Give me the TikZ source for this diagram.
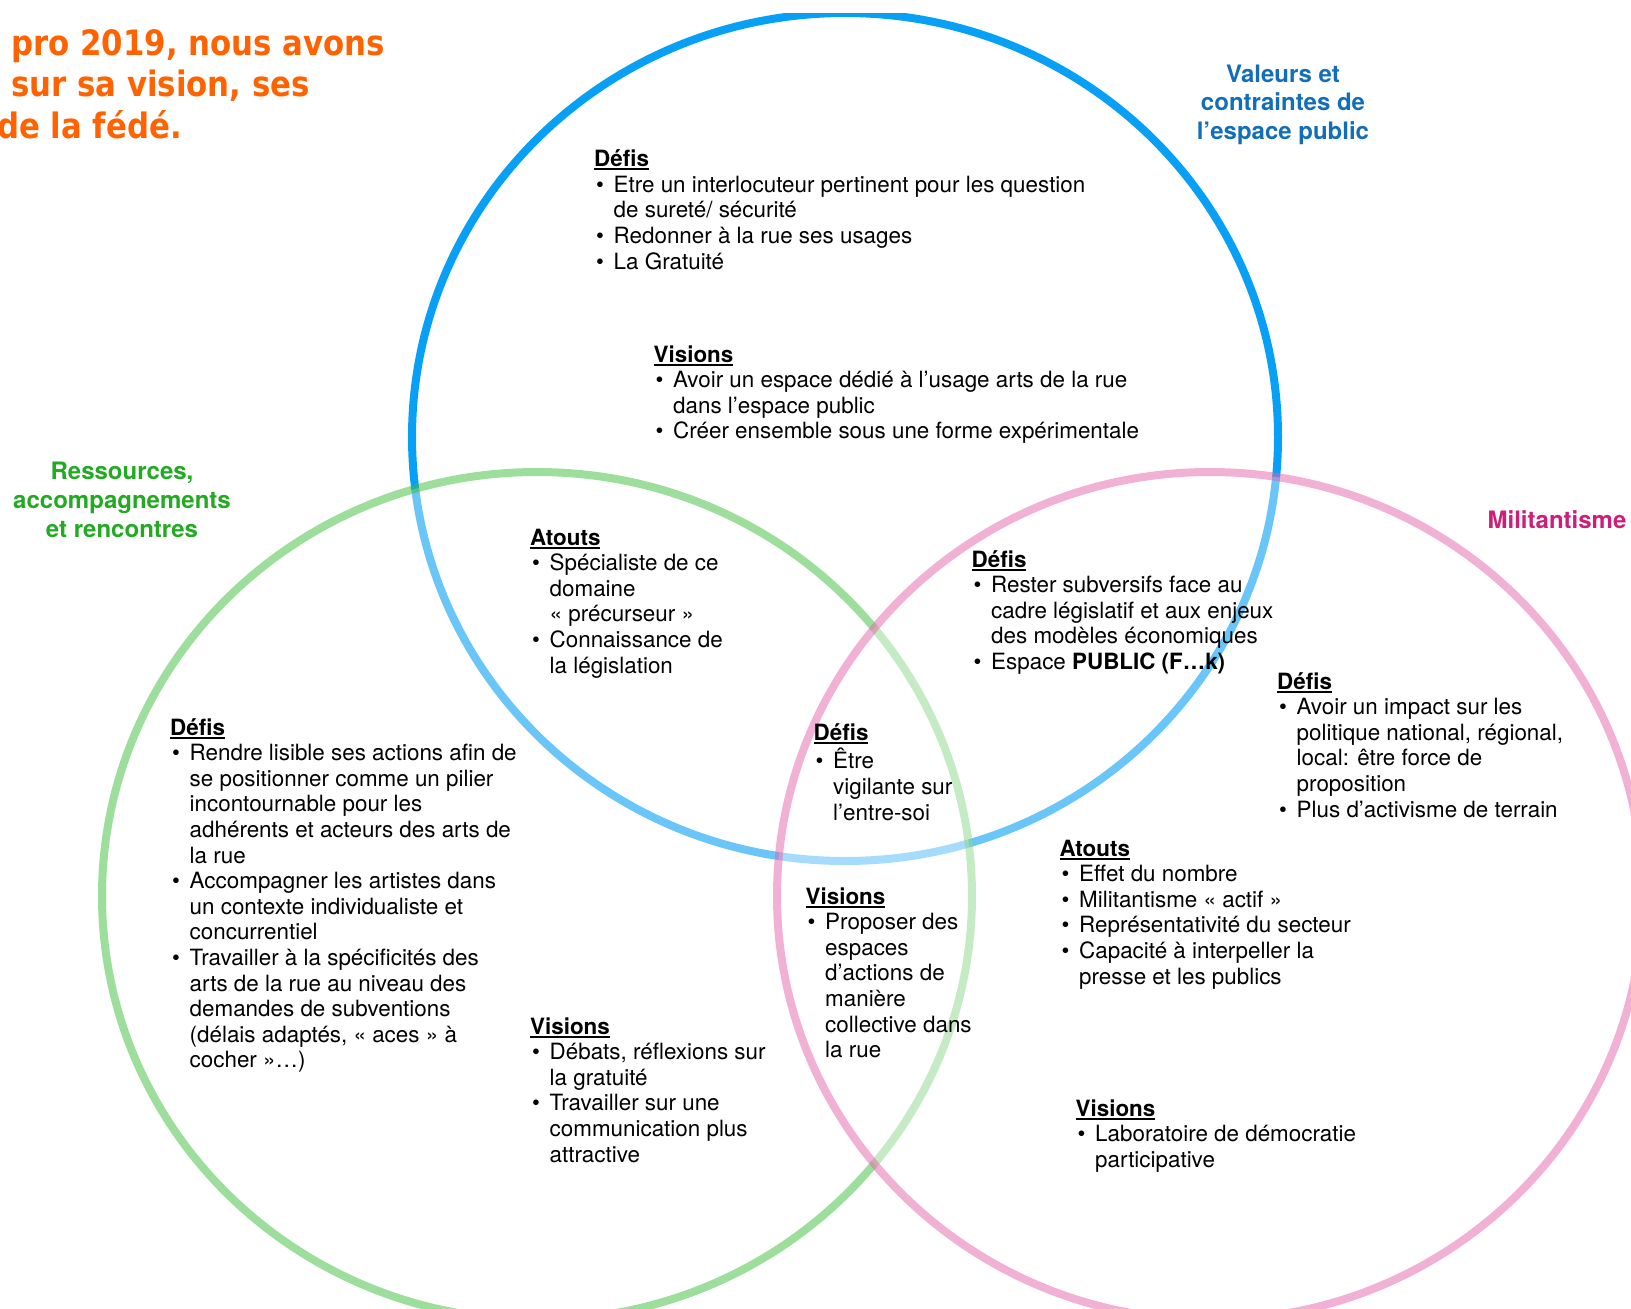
\documentclass[tikz,border=0pt]{standalone}
\usepackage{fontspec}
\setmainfont{TeX Gyre Heros}
\newfontfamily\orfont[FakeStretch=0.88]{DejaVu Sans}
\usepackage{array}
\definecolor{bluec}{RGB}{8,160,245}
\definecolor{greenc}{RGB}{60,190,60}
\definecolor{pinkc}{RGB}{228,100,170}
\definecolor{orangec}{RGB}{255,98,0}
\definecolor{bluet}{RGB}{18,110,185}
\definecolor{greent}{RGB}{35,170,35}
\definecolor{pinkt}{RGB}{205,30,120}
\newcommand\hd[1]{\setbox0\hbox{\bfseries #1}\rlap{\rule[-3.5pt]{\wd0}{1.8pt}}\box0}
\newcommand\bl[1]{\hspace*{2pt}\makebox[17.5pt][l]{\textbullet}#1}
\newcommand\cn[1]{\hspace*{19.5pt}#1}
\newcommand\blk[1]{\begin{tabular}[t]{@{}l@{}}#1\end{tabular}}
\newcommand\ctr[1]{\begin{tabular}[t]{@{}c@{}}#1\end{tabular}}
\tikzset{
  blk/.style={anchor=base west, inner sep=0pt, font=\fontsize{22.4}{25.6}\selectfont},
  lbl/.style={anchor=base, inner sep=0pt, font=\fontsize{24}{28.2}\selectfont\bfseries},
  ortx/.style={anchor=base west, inner sep=0pt, text=orangec, font=\orfont\fontsize{35}{41.5}\selectfont\bfseries},
  ring/.style={line width=8pt},
  veil/.style={fill=white, fill opacity=.4, draw opacity=.5}
}
\begin{document}
\begin{tikzpicture}[x=1pt,y=-1pt]
\useasboundingbox (0,0) rectangle (1631,1309);
% circles
\draw[ring, draw=bluec] (845,437) ellipse [x radius=433pt, y radius=424pt];
\draw[ring, veil, draw=greenc] (537,896) ellipse [x radius=435pt, y radius=424pt];
\draw[ring, veil, draw=pinkc] (1210,896) ellipse [x radius=433pt, y radius=424pt];
\fill[white] (0,0) rectangle (1631,12.7);
% orange title
\node[ortx] (t1) at (11,55) {pro 2019, nous avons};
\node[ortx] (t2) at (11,96.7) {sur sa vision, ses};
\node[ortx] (t3) at (-3,138) {de la fédé.};
% circle labels
\node[lbl, text=bluet] (lblue) at (1283,82.7) {\ctr{Valeurs et\\contraintes de\\l’espace public}};
\node[lbl, text=greent, font=\fontsize{24}{29}\selectfont\bfseries] (lgreen) at (122,479) {\ctr{Ressources,\\accompagnements\\et rencontres}};
\node[lbl, text=pinkt] (lpink) at (1557,528) {Militantisme};
% blocks
\node[blk] (b1) at (594,166.7) {\blk{\hd{Défis}\\
 \bl{Etre un interlocuteur pertinent pour les question}\\
 \cn{de sureté/ sécurité}\\
 \bl{Redonner à la rue ses usages}\\
 \bl{La Gratuité}}};
\node[blk] (b2) at (653.5,362) {\blk{\hd{Visions}\\
 \bl{Avoir un espace dédié à l’usage arts de la rue}\\
 \cn{dans l’espace public}\\
 \bl{Créer ensemble sous une forme expérimentale}}};
\node[blk] (b3) at (530,545) {\blk{\hd{Atouts}\\
 \bl{Spécialiste de ce}\\
 \cn{domaine}\\
 \cn{« précurseur »}\\
 \bl{Connaissance de}\\
 \cn{la législation}}};
\node[blk] (b4) at (971.5,567) {\blk{\hd{Défis}\\
 \bl{Rester subversifs face au}\\
 \cn{cadre législatif et aux enjeux}\\
 \cn{des modèles économiques}\\
 \bl{Espace \textbf{PUBLIC (F…k)}}}};
\node[blk] (b5) at (1277,689) {\blk{\hd{Défis}\\
 \bl{Avoir un impact sur les}\\
 \cn{politique national, régional,}\\
 \cn{local: être force de}\\
 \cn{proposition}\\
 \bl{Plus d’activisme de terrain}}};
\node[blk] (b6) at (813.5,740.7) {\blk{\hd{Défis}\\
 \bl{Être}\\
 \cn{vigilante sur}\\
 \cn{l’entre-soi}}};
\node[blk] (b7) at (805.5,904) {\blk{\hd{Visions}\\
 \bl{Proposer des}\\
 \cn{espaces}\\
 \cn{d’actions de}\\
 \cn{manière}\\
 \cn{collective dans}\\
 \cn{la rue}}};
\node[blk] (b8) at (1059.5,856) {\blk{\hd{Atouts}\\
 \bl{Effet du nombre}\\
 \bl{Militantisme « actif »}\\
 \bl{Représentativité du secteur}\\
 \bl{Capacité à interpeller la}\\
 \cn{presse et les publics}}};
\node[blk] (b9) at (1075.5,1116) {\blk{\hd{Visions}\\
 \bl{Laboratoire de démocratie}\\
 \cn{participative}}};
\node[blk] (b10) at (170,735) {\blk{\hd{Défis}\\
 \bl{Rendre lisible ses actions afin de}\\
 \cn{se positionner comme un pilier}\\
 \cn{incontournable pour les}\\
 \cn{adhérents et acteurs des arts de}\\
 \cn{la rue}\\
 \bl{Accompagner les artistes dans}\\
 \cn{un contexte individualiste et}\\
 \cn{concurrentiel}\\
 \bl{Travailler à la spécificités des}\\
 \cn{arts de la rue au niveau des}\\
 \cn{demandes de subventions}\\
 \cn{(délais adaptés, « aces » à}\\
 \cn{cocher »…)}}};
\node[blk] (b11) at (530,1034) {\blk{\hd{Visions}\\
 \bl{Débats, réflexions sur}\\
 \cn{la gratuité}\\
 \bl{Travailler sur une}\\
 \cn{communication plus}\\
 \cn{attractive}}};
\end{tikzpicture}
\end{document}
